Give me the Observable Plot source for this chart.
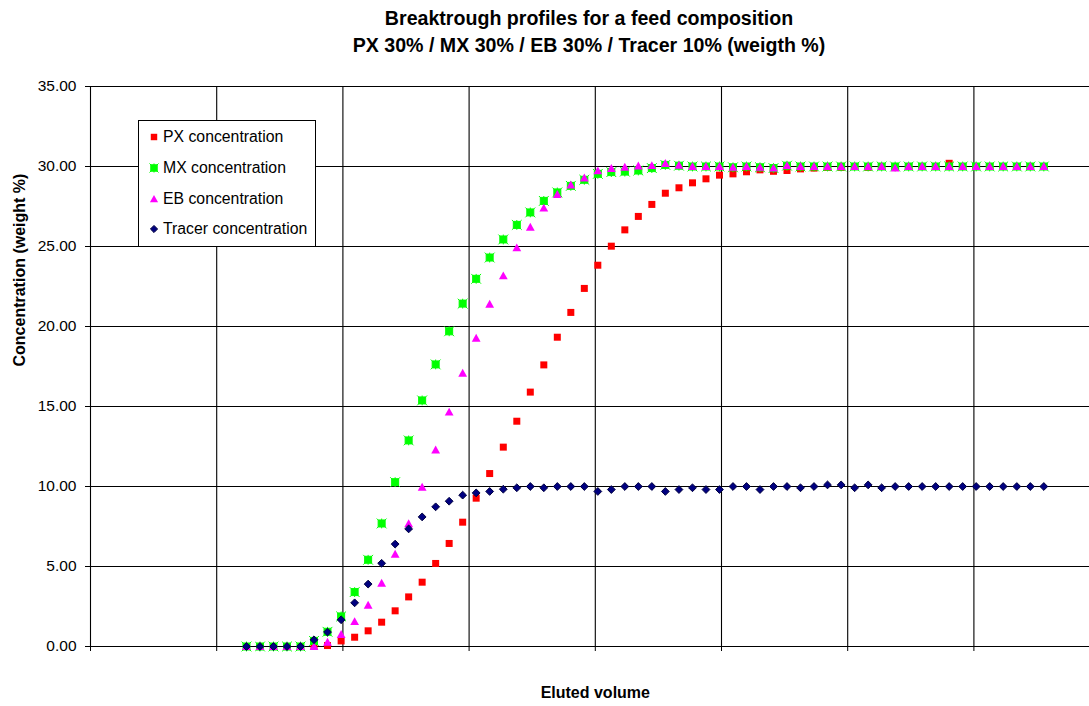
<!DOCTYPE html>
<html>
<head>
<meta charset="utf-8">
<script src="https://cdn.jsdelivr.net/npm/d3@7"></script>
<script src="https://cdn.jsdelivr.net/npm/@observablehq/plot@0.6"></script>
<style>
  body { margin: 0; background: #fff; font-family: "Liberation Sans", Arial, sans-serif; color: #000; }
  #wrap { position: relative; width: 1089px; height: 706px; overflow: hidden; background: #fff; }
  #title { position: absolute; left: 0; top: 0; width: 1178px; text-align: center;
           font-weight: bold; font-size: 19.6px; line-height: 27px; padding-top: 5px; }
  #chart { position: absolute; left: 0; top: 60px; }
  #legend { position: absolute; left: 138px; top: 120px; width: 176px; height: 125px;
            border: 1px solid #000; background: #fff; }
  .entry { position: absolute; left: 8px; height: 20px; display: flex; align-items: center;
           font-size: 15.8px; white-space: nowrap; }
  .entry svg { width: 14px; height: 14px; margin-right: 2px; }
</style>
</head>
<body>
<div id="wrap">
  <div id="title">Breaktrough profiles for a feed composition<br>PX 30% / MX 30% / EB 30% / Tracer 10% (weigth %)</div>
  <div id="chart"></div>
  <div id="legend"></div>
</div>
<script>
// Eluted volume at each sample
const volume = [
  123.6, 134.3, 145.0, 155.7, 166.4, 177.1, 187.8, 198.6, 209.3, 220.0,
  230.7, 241.4, 252.1, 262.8, 273.5, 284.2, 294.9, 305.6, 316.3, 327.1,
  337.8, 348.5, 359.2, 369.9, 380.6, 391.3, 402.0, 412.7, 423.4, 434.1,
  444.8, 455.5, 466.3, 477.0, 487.7, 498.4, 509.1, 519.8, 530.5, 541.2,
  551.9, 562.6, 573.3, 584.0, 594.8, 605.5, 616.2, 626.9, 637.6, 648.3,
  659.0, 669.7, 680.4, 691.1, 701.8, 712.5, 723.2, 734.0, 744.7, 755.4
];

// Concentrations (weight %)
const px = [
  0, 0, 0, 0, 0, 0, 0.06, 0.35, 0.58, 0.98,
  1.52, 2.23, 3.10, 4.02, 5.19, 6.44, 7.77, 9.27, 10.81, 12.46,
  14.08, 15.90, 17.60, 19.33, 20.88, 22.38, 23.83, 25.02, 26.04, 26.88,
  27.63, 28.33, 28.67, 28.98, 29.23, 29.46, 29.54, 29.67, 29.79, 29.70,
  29.75, 29.85, 29.90, 29.95, 29.95, 30.00, 29.95, 30.00, 30.00, 30.00,
  30.00, 30.00, 30.20, 30.00, 30.00, 30.00, 30.00, 30.00, 30.00, 30.00
];
const mx = [
  0, 0, 0, 0, 0, 0.35, 0.92, 1.88, 3.40, 5.42,
  7.69, 10.27, 12.88, 15.38, 17.63, 19.70, 21.43, 22.98, 24.31, 25.44,
  26.35, 27.13, 27.85, 28.38, 28.79, 29.17, 29.54, 29.65, 29.68, 29.75,
  29.90, 30.10, 30.05, 30.00, 30.00, 30.00, 29.95, 30.00, 29.95, 29.90,
  30.05, 30.00, 30.00, 30.00, 30.00, 30.00, 30.00, 30.00, 30.00, 30.00,
  30.00, 30.00, 30.00, 30.00, 30.00, 30.00, 30.00, 30.00, 30.00, 30.00
];
const eb = [
  0, 0, 0, 0, 0, 0, 0.27, 0.75, 1.56, 2.58,
  3.96, 5.77, 7.68, 9.96, 12.29, 14.65, 17.08, 19.27, 21.39, 23.17,
  24.92, 26.21, 27.40, 28.25, 28.85, 29.29, 29.73, 29.88, 29.96, 30.04,
  30.06, 30.19, 30.08, 30.00, 30.00, 30.00, 29.95, 30.00, 29.95, 29.90,
  30.06, 30.00, 30.00, 30.00, 30.00, 30.00, 30.00, 30.00, 29.90, 30.00,
  30.00, 30.00, 30.00, 30.00, 30.00, 30.00, 30.00, 30.00, 30.00, 30.00
];
const tracer = [
  0, 0, 0, 0, 0, 0.42, 0.90, 1.67, 2.73, 3.90,
  5.20, 6.40, 7.35, 8.10, 8.73, 9.08, 9.46, 9.60, 9.69, 9.83,
  9.92, 10.00, 9.92, 10.00, 10.00, 10.00, 9.69, 9.81, 10.00, 10.00,
  10.00, 9.69, 9.81, 9.92, 9.81, 9.81, 10.00, 10.00, 9.81, 10.00,
  10.00, 9.92, 10.00, 10.10, 10.10, 9.92, 10.10, 9.92, 10.00, 10.00,
  10.00, 10.00, 10.00, 10.00, 10.00, 10.00, 10.00, 10.00, 10.00, 10.00
];

const seriesNames = ["PX concentration", "MX concentration", "EB concentration", "Tracer concentration"];
const yTicks = [0, 5, 10, 15, 20, 25, 30, 35];
const xTicks = [0, 100, 200, 300, 400, 500, 600, 700];

// Marker shapes, sized from the dot radius
const rOf = size => Math.sqrt(size / Math.PI);
const squareSym = { draw(ctx, size) { const r = rOf(size); ctx.rect(-r, -r, 2 * r, 2 * r); } };
const starSquareSym = { draw(ctx, size) {
  const r = rOf(size), s = 1.4 * r;
  ctx.rect(-r, -r, 2 * r, 2 * r);
  ctx.moveTo(-s, -s); ctx.lineTo(s, s);
  ctx.moveTo(s, -s); ctx.lineTo(-s, s);
  ctx.moveTo(0, -s); ctx.lineTo(0, s);
} };
const triangleSym = { draw(ctx, size) {
  const r = rOf(size);
  ctx.moveTo(0, -r); ctx.lineTo(r, 0.8 * r); ctx.lineTo(-r, 0.8 * r); ctx.closePath();
} };
const diamondSym = { draw(ctx, size) {
  const r = rOf(size);
  ctx.moveTo(0, -r); ctx.lineTo(r, 0); ctx.lineTo(0, r); ctx.lineTo(-r, 0); ctx.closePath();
} };

const styles = [
  { values: px, symbol: squareSym, r: 3.5, fill: "#ff0000", stroke: "none" },
  { values: mx, symbol: starSquareSym, r: 3.5, fill: "#00ff00", stroke: "#00ff00" },
  { values: eb, symbol: triangleSym, r: 4.4, fill: "#ff00ff", stroke: "none" },
  { values: tracer, symbol: diamondSym, r: 3.9, fill: "#000080", stroke: "#000040" }
];

const rows = volume.map((v, i) => ({ v, px: px[i], mx: mx[i], eb: eb[i], tracer: tracer[i] }));

const font = '"Liberation Sans", Arial, sans-serif';

const chart = Plot.plot({
  width: 1089,
  height: 646,
  marginLeft: 90,
  marginRight: 0,
  marginTop: 26,
  marginBottom: 60,
  x: { domain: [0, 791.6], axis: null },
  y: { domain: [0, 35], axis: null },
  style: { fontFamily: font, fontSize: "15.5px", color: "#000", background: "transparent", overflow: "visible" },
  marks: [
    Plot.gridX(xTicks.slice(1), { stroke: "#000", strokeOpacity: 1, strokeWidth: 1.1 }),
    Plot.gridY(yTicks, { stroke: "#000", strokeOpacity: 1, strokeWidth: 1.1 }),
    Plot.ruleX([0], { stroke: "#000", strokeWidth: 1.1 }),
    Plot.axisY(yTicks, { tickSize: 5, tickPadding: 9, tickFormat: d3.format(".2f"), label: null, fontSize: 15.5 }),
    Plot.axisX(xTicks, { tickSize: 5, tickFormat: () => "", label: null }),
    ...styles.map(s => Plot.dot(rows, {
      x: "v",
      y: d => s.values[rows.indexOf(d)],
      symbol: () => s.symbol,
      r: s.r,
      fill: s.fill,
      stroke: s.stroke,
      strokeWidth: 1
    })),
    Plot.text(["Concentration (weight %)"], {
      frameAnchor: "left", rotate: -90, dx: -71, fontWeight: "bold", fontSize: 16
    }),
    Plot.text(["Eluted volume"], {
      x: () => 400, frameAnchor: "bottom", dy: 51, fontWeight: "bold", fontSize: 16
    })
  ]
});
document.getElementById("chart").appendChild(chart);

// Legend box
const legend = document.getElementById("legend");
const rowTops = [6, 36.7, 67.7, 97.7];
styles.forEach((s, k) => {
  const entry = document.createElement("div");
  entry.className = "entry";
  entry.style.top = rowTops[k] + "px";
  const svg = d3.create("svg").attr("viewBox", "-7 -7 14 14");
  const sym = d3.symbol(s.symbol, Math.PI * (s.r * 0.92) ** 2);
  svg.append("path").attr("d", sym()).attr("fill", s.fill)
    .attr("stroke", s.stroke).attr("stroke-width", 1);
  entry.appendChild(svg.node());
  entry.appendChild(document.createTextNode(seriesNames[k]));
  legend.appendChild(entry);
});
</script>
</body>
</html>
